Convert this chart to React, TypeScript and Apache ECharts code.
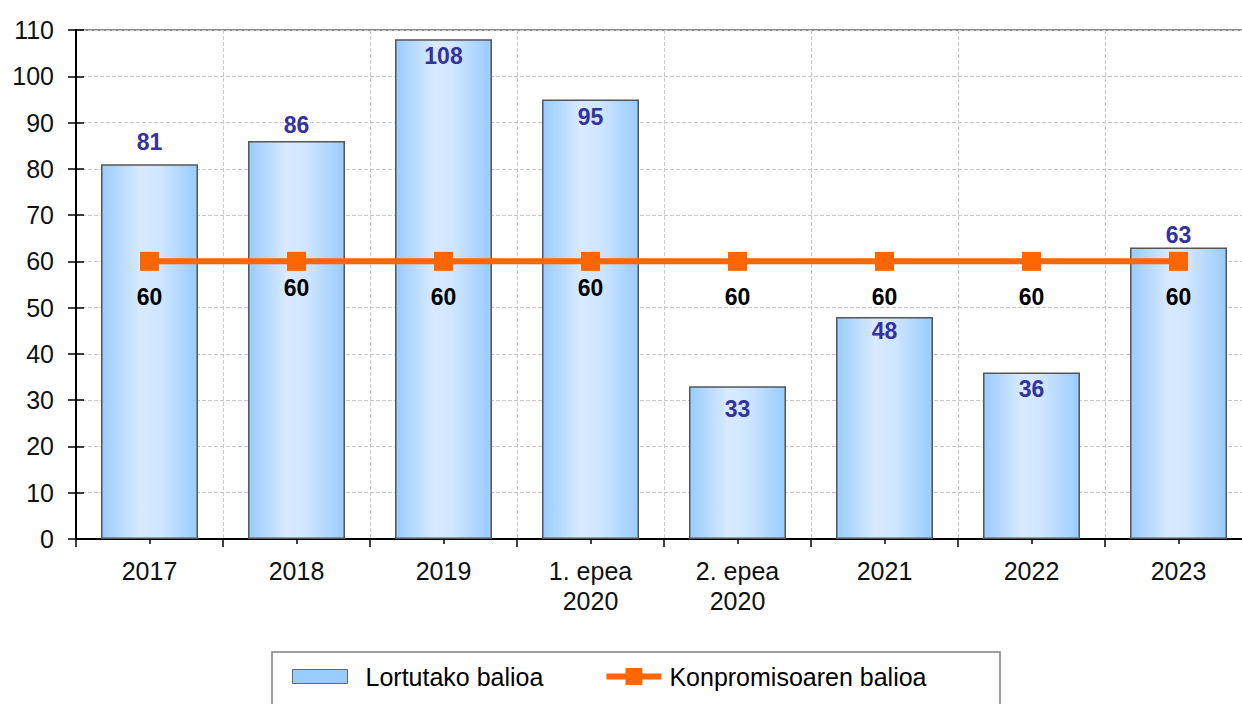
import React, { useEffect, useRef } from "react";
import * as echarts from "echarts";

const categories = ["2017", "2018", "2019", "1. epea\n2020", "2. epea\n2020", "2021", "2022", "2023"];
const achieved = [81, 86, 108, 95, 33, 48, 36, 63];
const commitment = [60, 60, 60, 60, 60, 60, 60, 60];
const achievedLabelPos = ["top", "top", "insideTop", "insideTop", "insideTop", "insideTop", "insideTop", "top"];
const achievedLabelDist = [11, 5, 5, 6, 11, 3, 5, 1];
const commitmentLabelDist = [15, 6, 15, 6, 15, 15, 15, 15];
const yTicks = { min: 0, max: 110, interval: 10 };
const seriesNames = ["Lortutako balioa", "Konpromisoaren balioa"];

const FONT = "'Liberation Sans', Arial, sans-serif";

export default function App() {
  const ref = useRef<HTMLDivElement>(null);
  useEffect(() => {
    if (!ref.current) return;
    const chart = echarts.init(ref.current, null, { renderer: "svg" });
    const barGradient = new echarts.graphic.LinearGradient(0, 0, 1, 0, [
      { offset: 0, color: "#99ccff" },
      { offset: 0.4, color: "#d8eaff" },
      { offset: 0.6, color: "#d0e6ff" },
      { offset: 1, color: "#99ccff" },
    ]);
    chart.setOption({
      animation: false,
      textStyle: { fontFamily: FONT },
      grid: {
        left: 76,
        top: 30,
        width: 1176,
        bottom: 165,
        outerBoundsMode: "none",
        containLabel: false,
        show: true,
        borderColor: "#8a8a8a",
        borderWidth: 2,
      },
      legend: {
        left: 292,
        top: 664,
        padding: 0,
        itemWidth: 55,
        itemHeight: 21,
        itemGap: 60,
        textStyle: { fontSize: 25, color: "#000", fontFamily: FONT },
        data: [
          {
            name: seriesNames[0],
            icon: "path://M0,0H55V14H0Z",
            itemStyle: { color: "#99ccff", borderColor: "#666", borderWidth: 1 },
            textStyle: { padding: [0, 0, 0, 13] },
          },
          {
            name: seriesNames[1],
            lineStyle: { width: 6, color: "#ff6600" },
            itemStyle: { color: "#ff6600" },
            textStyle: { padding: [0, 0, 0, 3] },
          },
        ],
      },
      graphic: [
        {
          type: "rect",
          shape: { x: 272, y: 652, width: 728, height: 70 },
          style: { fill: "none", stroke: "#808080", lineWidth: 1.5 },
          z: 0,
        },
      ],
      xAxis: [
        {
          type: "category",
          data: categories,
          boundaryGap: true,
          axisLine: { lineStyle: { color: "#000", width: 2 } },
          axisTick: { show: true, length: 8, lineStyle: { color: "#000", width: 1.5 } },
          axisLabel: { fontSize: 25, color: "#111", lineHeight: 30, margin: 17, fontFamily: FONT },
          splitLine: { show: true, lineStyle: { color: "#c8c8c8", type: "dashed", width: 1 } },
        },
        {
          type: "category",
          data: categories,
          position: "bottom",
          boundaryGap: true,
          axisLine: { show: false },
          axisTick: { show: true, alignWithLabel: true, length: 5, lineStyle: { color: "#000", width: 1.5 } },
          axisLabel: { show: false },
          splitLine: { show: false },
        },
      ],
      yAxis: [
        {
          type: "value",
          min: yTicks.min,
          max: yTicks.max,
          interval: yTicks.interval,
          axisLine: { show: true, lineStyle: { color: "#000", width: 2 } },
          axisTick: { show: true, length: 8, lineStyle: { color: "#000", width: 1.5 } },
          axisLabel: { fontSize: 25, color: "#111", margin: 22, fontFamily: FONT },
          splitLine: { show: true, lineStyle: { color: "#c8c8c8", type: "dashed", width: 1 } },
        },
        {
          type: "value",
          min: yTicks.min,
          max: yTicks.max,
          interval: yTicks.interval,
          position: "left",
          axisLine: { show: false },
          axisTick: { show: true, inside: true, length: 8, lineStyle: { color: "#000", width: 1.5 } },
          axisLabel: { show: false },
          splitLine: { show: false },
        },
      ],
      series: [
        {
          name: seriesNames[0],
          type: "bar",
          barWidth: 97,
          itemStyle: { color: barGradient, borderColor: "#555", borderWidth: 1.5 },
          data: achieved.map((v, i) => ({
            value: v,
            label: {
              show: true,
              position: achievedLabelPos[i],
              distance: achievedLabelDist[i],
              color: "#333399",
              fontWeight: "bold",
              fontSize: 23,
              fontFamily: FONT,
            },
          })),
          z: 2,
        },
        {
          name: seriesNames[1],
          type: "line",
          symbol: "rect",
          symbolSize: 19,
          color: "#ff6600",
          lineStyle: { color: "#ff6600", width: 6 },
          itemStyle: { color: "#ff6600" },
          data: commitment.map((v, i) => ({
            value: v,
            label: {
              show: true,
              position: "bottom",
              distance: commitmentLabelDist[i],
              color: "#000",
              fontWeight: "bold",
              fontSize: 23,
              fontFamily: FONT,
            },
          })),
          z: 5,
        },
      ],
    });
    return () => chart.dispose();
  }, []);
  return <div ref={ref} style={{ width: 1242, height: 704, position: "absolute", left: 0, top: 0 }} />;
}
